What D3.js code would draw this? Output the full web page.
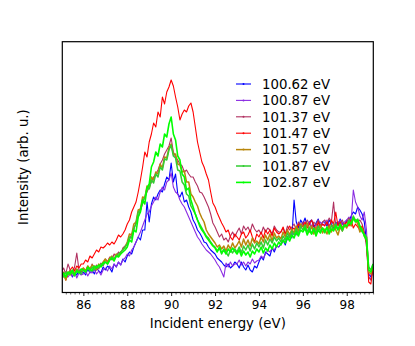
<!DOCTYPE html>
<html><head><meta charset="utf-8">
<script src="https://cdn.jsdelivr.net/npm/d3@7"></script>
<style>
html,body{margin:0;padding:0;background:#fff;}
svg{display:block;font-family:"DejaVu Sans",sans-serif;}
</style></head>
<body><svg id="c" width="415" height="346"></svg>
<script>
const energyStart = 85.0, energyStep = 0.1;
const labels = ["100.62 eV","100.87 eV","101.37 eV","101.47 eV","101.57 eV","101.87 eV","102.87 eV"];
const colors = ["#0000ff","#8a2be2","#b03060","#ff0000","#b8860b","#32cd32","#00ff00"];
const xTicks = [86,88,90,92,94,96,98];

const s10062 = [16,19,14,18,21,15,19,17,22,18, 20,17,23,19,22,18,24,21,19,25, 22,26,24,20,28,25,30,27,33,30,
 36,40,38,45,50,55,52,62,62,90, 70,88,95,92,98,102,100,108,115,112, 129,110,118,98,95,100,90,92,85,80,
 72,68,62,59,55,50,49,45,42,40, 38,34,32,30,27,25,28,24,26,30, 28,24,30,25,22,27,22,20,26,24,
 30,35,32,40,38,36,44,40,46,45, 48,52,47,55,58,54,92,70,64,72, 68,74,66,70,72,65,69,73,66,70,
 70,66,72,68,64,70,67,73,69,66, 72,70,76,80,78,85,82,78,70,50, 18,15,28];
const s10087 = [14,17,20,15,18,16,20,14,19,17, 18,21,16,20,19,23,18,21,17,22, 24,21,26,23,28,25,30,27,32,34,
 38,36,42,45,50,55,60,66,72,78, 80,86,90,95,92,100,105,102,110,112, 119,105,100,98,92,88,85,80,75,70,
 65,60,55,52,48,45,42,40,38,35, 32,28,25,20,15,29,25,30,26,28, 28,32,27,30,26,30,28,33,29,31,
 32,36,34,38,42,40,44,42,46,45, 48,50,54,52,56,58,60,57,62,65, 68,64,67,70,66,62,68,65,70,67,
 68,72,66,70,68,65,69,72,67,70, 72,75,70,102,90,85,76,72,80,62, 15,12,25];
const s10137 = [20,24,18,28,22,19,25,39,22,20, 24,21,26,22,28,24,27,23,29,26, 33,30,35,32,38,36,40,38,44,46,
 48,52,58,62,70,75,82,88,95,100, 105,110,115,118,122,128,132,138,142,146, 154,140,135,132,128,126,120,122,118,115,
 115,110,106,100,99,95,90,85,78,69, 65,60,55,58,52,54,50,56,60,55, 60,64,58,66,62,65,60,68,63,60,
 62,58,65,60,64,62,58,66,62,60, 60,64,58,66,62,65,68,62,70,66, 70,66,72,68,64,70,67,72,66,70,
 72,68,74,70,90,65,70,68,72,66, 70,74,68,75,72,70,72,68,60,45, 15,12,25];
const s10147 = [15,20,12,18,22,25,21,26,24,28, 28,32,30,36,34,38,42,40,45,44, 46,49,47,50,48,52,57,55,58,62,
 68,72,80,85,90,100,112,125,140,135, 150,158,169,165,180,175,195,188,200,205, 212,206,195,185,172,178,182,180,186,189,
 180,165,150,140,130,125,118,112,100,89, 85,79,74,69,65,60,62,55,52,58, 55,52,58,60,54,57,62,55,50,58,
 55,60,54,62,58,62,56,64,60,58, 60,65,58,62,66,62,64,60,68,64, 66,70,64,68,72,66,62,70,64,68,
 66,70,64,72,68,80,66,70,64,68, 70,66,72,64,68,65,62,66,58,50, 10,8,25];
const s10157 = [14,18,12,20,17,21,19,23,20,22, 24,21,26,23,27,25,22,28,26,30, 33,30,34,36,32,38,36,40,42,45,
 50,58,57,68,70,82,83,95,94,106, 104,115,112,120,118,128,124,135,134,144, 148,138,138,128,127,120,121,110,110,98,
 95,90,86,79,74,70,62,58,55,52, 49,45,47,43,46,41,47,43,49,44, 47,51,45,53,47,52,46,54,49,51,
 48,55,50,57,52,58,51,59,54,56, 53,60,55,62,57,63,59,66,61,68, 66,62,69,60,66,58,65,61,67,59,
 63,58,66,60,68,62,57,65,61,67, 64,70,66,74,72,68,60,64,56,55, 20,18,24];
const s10187 = [18,15,20,17,21,19,16,22,20,18, 22,20,24,21,25,22,26,24,28,27, 30,28,32,35,33,36,38,40,42,45,
 48,55,54,64,68,80,82,92,94,104, 103,112,109,118,115,125,122,133,132,142, 147,136,134,122,121,110,107,98,96,86,
 82,78,72,68,64,60,56,54,50,47, 45,41,44,38,43,40,36,42,39,43, 40,45,39,46,42,47,41,48,43,49,
 45,50,44,52,47,53,49,55,51,54, 50,56,52,59,54,61,57,63,58,66, 62,67,60,65,58,64,59,66,61,64,
 59,65,60,67,62,68,63,66,61,67, 66,72,68,76,71,73,64,60,58,55, 25,22,28];
const s10287 = [16,19,15,20,18,22,17,21,19,23, 22,20,25,23,21,26,24,27,25,29, 30,28,32,34,31,36,35,38,40,42,
 45,52,50,62,60,75,80,92,88,104, 108,125,130,140,136,148,145,158,155,168, 175,158,152,136,132,118,115,102,104,92,
 85,78,72,66,62,59,55,52,49,46, 44,40,45,39,42,38,43,40,44,41, 38,42,36,41,37,40,35,41,38,43,
 40,45,39,44,41,47,43,49,45,50, 47,52,49,55,51,57,54,60,56,62, 60,64,57,62,58,63,56,62,59,64,
 60,65,58,63,61,66,62,68,63,67, 66,70,68,74,70,72,66,62,56,52, 22,20,28];

const seriesValues = [s10062,s10087,s10137,s10147,s10157,s10187,s10287];
const widths = [1.1,1.1,1.1,1.1,1.5,1.5,1.6];

const svg = d3.select("#c");
const L = 62.3, R = 373.3, T = 41.7, B = 292.5;
const x = d3.scaleLinear().domain([85.04, 99.21]).range([L, R]);
const y = d3.scaleLinear().domain([0, 250]).range([292, 42]);

svg.append("defs").append("clipPath").attr("id","pc")
  .append("rect").attr("x",L).attr("y",T).attr("width",R-L).attr("height",B-T);

const line = d3.line().x((d,i)=>x(energyStart + i*energyStep)).y(d=>y(d));
const g = svg.append("g").attr("clip-path","url(#pc)");
seriesValues.forEach((s,k)=>{
  g.append("path").attr("d", line(s)).attr("fill","none")
   .attr("stroke", colors[k]).attr("stroke-width", widths[k]).attr("stroke-linejoin","round");
});

svg.append("rect").attr("x",L).attr("y",T).attr("width",R-L).attr("height",B-T)
  .attr("fill","none").attr("stroke","#000").attr("stroke-width",1.2);

const minor = d3.range(85.2, 99.21, 0.2).filter(v=>Math.abs(v/2-Math.round(v/2))>0.01);
svg.append("g").attr("transform",`translate(0,${B})`)
  .call(d3.axisBottom(x).tickValues(xTicks).tickSize(3.5).tickPadding(4).tickFormat(d3.format("d")))
  .call(a=>a.select(".domain").remove())
  .call(a=>a.selectAll("text").attr("font-size","12px").attr("font-family","DejaVu Sans").attr("fill","#000"))
  .call(a=>a.selectAll("line").attr("stroke","#000").attr("stroke-width",0.9));
svg.append("g").attr("transform",`translate(0,${B})`)
  .call(d3.axisBottom(x).tickValues(minor).tickSize(2).tickFormat(""))
  .call(a=>a.select(".domain").remove())
  .call(a=>a.selectAll("line").attr("stroke","#000").attr("stroke-width",0.6));

svg.append("text").attr("x",(L+R)/2).attr("y",327.5).attr("text-anchor","middle")
  .attr("font-size","13.3px").text("Incident energy (eV)");
svg.append("text").attr("transform",`translate(28,${(T+B)/2}) rotate(-90)`)
  .attr("text-anchor","middle").attr("font-size","13.3px").text("Intensity (arb. u.)");

const lg = svg.append("g");
labels.forEach((lab,k)=>{
  const yy = 84 + k*16.4;
  lg.append("line").attr("x1",236).attr("x2",251).attr("y1",yy).attr("y2",yy)
    .attr("stroke",colors[k]).attr("stroke-width",widths[k]);
  lg.append("circle").attr("cx",243.5).attr("cy",yy).attr("r",1).attr("fill",colors[k]);
  lg.append("text").attr("x",262).attr("y",yy+4.8).attr("font-size","13.3px").text(lab);
});
</script></body></html>
